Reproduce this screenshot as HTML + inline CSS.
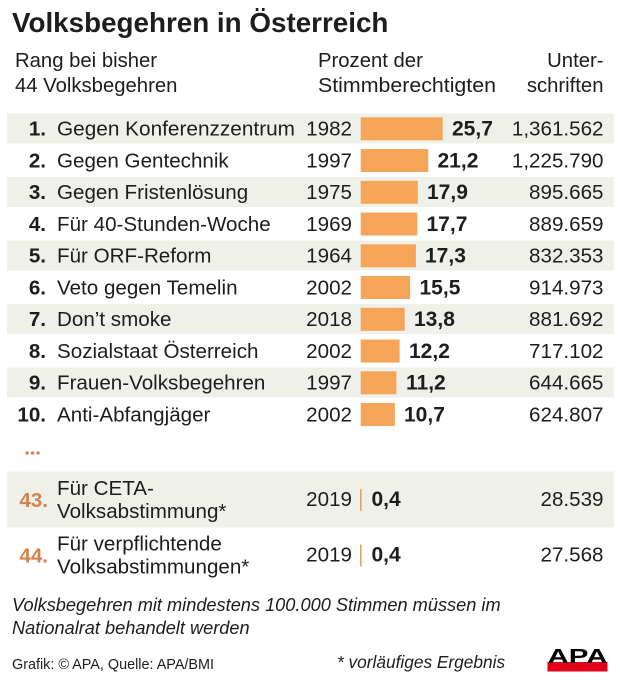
<!DOCTYPE html>
<html>
<head>
<meta charset="utf-8">
<style>
html,body{margin:0;padding:0;background:#fff;}
svg{display:block;}
text{font-family:"Liberation Sans",Arial,sans-serif;fill:#1d1d1b;}
.t{font-size:27.8px;font-weight:bold;}
.h{font-size:20.3px;}
.n{font-size:20.6px;}
.b{font-size:21px;font-weight:bold;}
.r{font-size:20.6px;font-weight:bold;}
.o{fill:#d2824d;}
.i{font-size:18.2px;font-style:italic;}
.s{font-size:14.4px;}
</style>
</head>
<body>
<svg width="620" height="683" viewBox="0 0 620 683" xmlns="http://www.w3.org/2000/svg">
<rect width="620" height="683" fill="#fff"/>
<!-- Title -->
<text class="t" x="12" y="32">Volksbegehren in Österreich</text>
<!-- Headers -->
<text class="h" x="15" y="67">Rang bei bisher</text>
<text class="h" x="15" y="92">44 Volksbegehren</text>
<text class="h" x="318" y="67">Prozent der</text>
<text class="h" x="318" y="92" textLength="178" lengthAdjust="spacingAndGlyphs">Stimmberechtigten</text>
<text class="h" x="603.5" y="67" text-anchor="end">Unter-</text>
<text class="h" x="603.5" y="92" text-anchor="end">schriften</text>

<!-- shading rows 1,3,5,7,9 -->
<g fill="#eff0ea">
<rect x="7" y="113.5" width="607" height="30"/>
<rect x="7" y="177" width="607" height="30"/>
<rect x="7" y="240.5" width="607" height="30"/>
<rect x="7" y="304" width="607" height="30"/>
<rect x="7" y="367.5" width="607" height="30"/>
<rect x="7" y="471.5" width="607" height="56"/>
</g>

<!-- bars -->
<g fill="#f5a557">
<rect x="360.7" y="117.3" width="82" height="23"/>
<rect x="360.7" y="149.05" width="67.6" height="23"/>
<rect x="360.7" y="180.8" width="57.1" height="23"/>
<rect x="360.7" y="212.55" width="56.5" height="23"/>
<rect x="360.7" y="244.3" width="55.2" height="23"/>
<rect x="360.7" y="276.05" width="49.4" height="23"/>
<rect x="360.7" y="307.8" width="44" height="23"/>
<rect x="360.7" y="339.55" width="38.9" height="23"/>
<rect x="360.7" y="371.3" width="35.7" height="23"/>
<rect x="360.7" y="403.05" width="34.1" height="23"/>
</g>

<!-- rows -->
<g>
<text class="r" x="46" y="135.5" text-anchor="end">1.</text>
<text class="n" x="57" y="135.5" textLength="238" lengthAdjust="spacingAndGlyphs">Gegen Konferenzzentrum</text>
<text class="n" x="352" y="135.5" text-anchor="end">1982</text>
<text class="b" x="452" y="135.5">25,7</text>
<text class="n" x="603.5" y="135.5" text-anchor="end">1,361.562</text>

<text class="r" x="46" y="167.25" text-anchor="end">2.</text>
<text class="n" x="57" y="167.25">Gegen Gentechnik</text>
<text class="n" x="352" y="167.25" text-anchor="end">1997</text>
<text class="b" x="437.5" y="167.25">21,2</text>
<text class="n" x="603.5" y="167.25" text-anchor="end">1,225.790</text>

<text class="r" x="46" y="199" text-anchor="end">3.</text>
<text class="n" x="57" y="199">Gegen Fristenlösung</text>
<text class="n" x="352" y="199" text-anchor="end">1975</text>
<text class="b" x="427" y="199">17,9</text>
<text class="n" x="603.5" y="199" text-anchor="end">895.665</text>

<text class="r" x="46" y="230.75" text-anchor="end">4.</text>
<text class="n" x="57" y="230.75">Für 40-Stunden-Woche</text>
<text class="n" x="352" y="230.75" text-anchor="end">1969</text>
<text class="b" x="426.5" y="230.75">17,7</text>
<text class="n" x="603.5" y="230.75" text-anchor="end">889.659</text>

<text class="r" x="46" y="262.5" text-anchor="end">5.</text>
<text class="n" x="57" y="262.5">Für ORF-Reform</text>
<text class="n" x="352" y="262.5" text-anchor="end">1964</text>
<text class="b" x="425" y="262.5">17,3</text>
<text class="n" x="603.5" y="262.5" text-anchor="end">832.353</text>

<text class="r" x="46" y="294.25" text-anchor="end">6.</text>
<text class="n" x="57" y="294.25">Veto gegen Temelin</text>
<text class="n" x="352" y="294.25" text-anchor="end">2002</text>
<text class="b" x="419.5" y="294.25">15,5</text>
<text class="n" x="603.5" y="294.25" text-anchor="end">914.973</text>

<text class="r" x="46" y="326" text-anchor="end">7.</text>
<text class="n" x="57" y="326">Don’t smoke</text>
<text class="n" x="352" y="326" text-anchor="end">2018</text>
<text class="b" x="414" y="326">13,8</text>
<text class="n" x="603.5" y="326" text-anchor="end">881.692</text>

<text class="r" x="46" y="357.75" text-anchor="end">8.</text>
<text class="n" x="57" y="357.75">Sozialstaat Österreich</text>
<text class="n" x="352" y="357.75" text-anchor="end">2002</text>
<text class="b" x="409" y="357.75">12,2</text>
<text class="n" x="603.5" y="357.75" text-anchor="end">717.102</text>

<text class="r" x="46" y="389.5" text-anchor="end">9.</text>
<text class="n" x="57" y="389.5">Frauen-Volksbegehren</text>
<text class="n" x="352" y="389.5" text-anchor="end">1997</text>
<text class="b" x="406" y="389.5">11,2</text>
<text class="n" x="603.5" y="389.5" text-anchor="end">644.665</text>

<text class="r" x="46" y="421.25" text-anchor="end">10.</text>
<text class="n" x="57" y="421.25">Anti-Abfangjäger</text>
<text class="n" x="352" y="421.25" text-anchor="end">2002</text>
<text class="b" x="404" y="421.25">10,7</text>
<text class="n" x="603.5" y="421.25" text-anchor="end">624.807</text>
</g>

<!-- ellipsis -->
<g fill="#d2824d">
<circle cx="27" cy="453" r="1.7"/>
<circle cx="32.5" cy="453" r="1.7"/>
<circle cx="38" cy="453" r="1.7"/>
</g>

<!-- row 43 -->
<text class="r o" x="48" y="507" text-anchor="end">43.</text>
<text class="n" x="57" y="495">Für CETA-</text>
<text class="n" x="57" y="518">Volksabstimmung*</text>
<text class="n" x="352" y="506" text-anchor="end">2019</text>
<rect x="360" y="489" width="1.6" height="22" fill="#dfa26b"/>
<text class="b" x="371.5" y="506">0,4</text>
<text class="n" x="603.5" y="506" text-anchor="end">28.539</text>

<!-- row 44 -->
<text class="r o" x="48" y="562.5" text-anchor="end">44.</text>
<text class="n" x="57" y="550.5">Für verpflichtende</text>
<text class="n" x="57" y="573.5">Volksabstimmungen*</text>
<text class="n" x="352" y="561.7" text-anchor="end">2019</text>
<rect x="360" y="544.5" width="1.6" height="22" fill="#dfa26b"/>
<text class="b" x="371.5" y="561.7">0,4</text>
<text class="n" x="603.5" y="561.7" text-anchor="end">27.568</text>

<!-- footer -->
<text class="i" x="12" y="611">Volksbegehren mit mindestens 100.000 Stimmen müssen im</text>
<text class="i" x="12" y="634">Nationalrat behandelt werden</text>
<text class="s" x="12" y="669">Grafik: © APA, Quelle: APA/BMI</text>
<text class="i" x="337" y="668" style="font-size:17.3px">* vorläufiges Ergebnis</text>

<!-- APA logo -->
<rect x="547.5" y="662" width="60" height="9.5" fill="#e2001a"/>
<text x="547.5" y="663" style="font-size:20.5px;font-weight:bold;fill:#000" textLength="60" lengthAdjust="spacingAndGlyphs">APA</text>
</svg>
</body>
</html>
